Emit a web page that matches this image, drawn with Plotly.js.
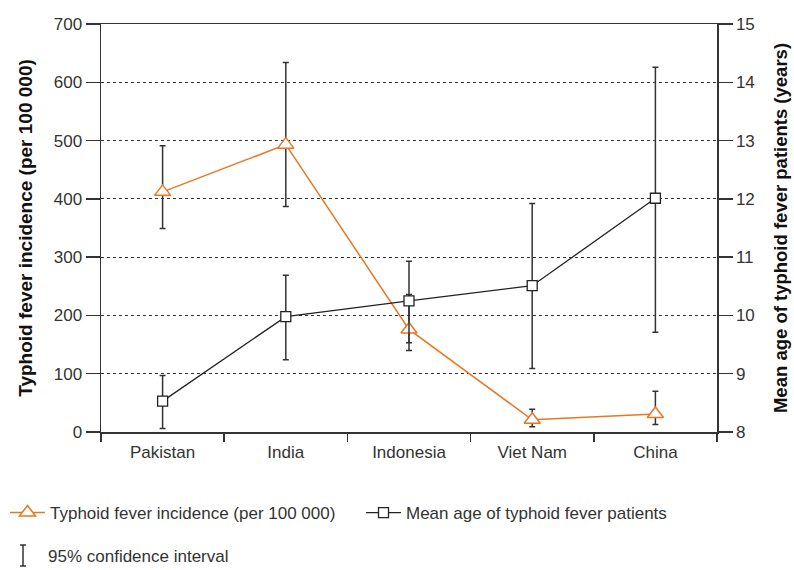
<!DOCTYPE html>
<html><head><meta charset="utf-8">
<script src="https://cdn.plot.ly/plotly-3.0.1.min.js"></script>
<style>html,body{margin:0;padding:0;background:#fff}</style>
</head><body><div id="chart" style="width:794px;height:570px"></div>
<script>
const countries = ['Pakistan', 'India', 'Indonesia', 'Viet Nam', 'China'];
const incidence = [412, 493, 176, 21, 31];
const incidenceLow = [349, 387, 140, 9, 13];
const incidenceHigh = [491, 634, 236, 39, 70];
const meanAge = [8.53, 9.98, 10.25, 10.51, 12.01];
const ageLow = [8.06, 9.24, 9.53, 9.09, 9.71];
const ageHigh = [8.97, 10.69, 10.93, 11.92, 14.26];
const incidenceName = 'Typhoid fever incidence (per 100 000)';
const ageName = 'Mean age of typhoid fever patients';
const ciLabel = '95% confidence interval';
const leftTitle = 'Typhoid fever incidence (per 100 000)';
const rightTitle = 'Mean age of typhoid fever patients (years)';

const ORANGE = '#E87722';
const DARK = '#222';
const GREY = '#333';
const FONT = 'Liberation Sans, Arial, sans-serif';
const FS = 17;

const errStyle = {type: 'data', symmetric: false, color: GREY, thickness: 1.5, width: 3};

const traces = [
  {
    x: countries, y: incidence, yaxis: 'y', name: incidenceName, legend: 'legend',
    type: 'scatter', mode: 'lines+markers', cliponaxis: false,
    line: {color: ORANGE, width: 1.5},
    marker: {symbol: 'triangle-up', size: 14, color: '#fff', line: {color: ORANGE, width: 1.5}},
    error_y: Object.assign({}, errStyle, {
      array: incidenceHigh.map((h, i) => h - incidence[i]),
      arrayminus: incidence.map((v, i) => v - incidenceLow[i])
    })
  },
  {
    x: countries, y: meanAge, yaxis: 'y2', name: ageName, legend: 'legend2',
    type: 'scatter', mode: 'lines+markers', cliponaxis: false,
    line: {color: DARK, width: 1.3},
    marker: {symbol: 'square', size: 10, color: '#fff', line: {color: DARK, width: 1.3}},
    error_y: Object.assign({}, errStyle, {
      array: ageHigh.map((h, i) => h - meanAge[i]),
      arrayminus: meanAge.map((v, i) => v - ageLow[i])
    })
  }
];

// paper coords for legend row 2 (plot area: x 101..717, y 24..432)
const px = v => (v - 101) / 616;
const py = v => (432 - v) / 408;

const legendBase = {
  orientation: 'h', xref: 'container', yref: 'container',
  y: 1 - 513 / 570, xanchor: 'left', yanchor: 'middle',
  font: {family: FONT, size: FS, color: GREY},
  itemwidth: 35, bgcolor: 'rgba(0,0,0,0)'
};

const layout = {
  width: 794, height: 570,
  margin: {l: 101, r: 77, t: 24, b: 138},
  paper_bgcolor: '#fff', plot_bgcolor: '#fff',
  font: {family: FONT, size: FS, color: GREY},
  showlegend: true,
  legend: Object.assign({}, legendBase, {x: 5 / 794}),
  legend2: Object.assign({}, legendBase, {x: 361 / 794}),
  xaxis: {
    type: 'category', range: [-0.5, 4.5],
    showline: true, mirror: true, linecolor: GREY, linewidth: 1.5,
    ticks: 'outside', tickson: 'boundaries', ticklen: 8, tickwidth: 1.5, tickcolor: GREY,
    ticklabelstandoff: 4,
    showgrid: false, zeroline: false,
    tickfont: {family: FONT, size: FS, color: GREY}
  },
  yaxis: {
    range: [0, 700], dtick: 100, tick0: 0,
    showline: true, linecolor: GREY, linewidth: 1.5,
    ticks: 'outside', ticklen: 14, tickwidth: 1.5, tickcolor: GREY,
    showgrid: true, gridcolor: GREY, gridwidth: 1.2, griddash: 'dot',
    zeroline: false,
    tickfont: {family: FONT, size: FS, color: GREY},
    title: {text: leftTitle, standoff: 16,
      font: {family: FONT, size: 19, color: '#111', weight: 'bold'}}
  },
  yaxis2: {
    range: [8, 15], dtick: 1, tick0: 8, overlaying: 'y', side: 'right',
    showline: true, linecolor: GREY, linewidth: 1.5,
    ticks: 'outside', ticklen: 14, tickwidth: 1.5, tickcolor: GREY,
    showgrid: false, zeroline: false,
    tickfont: {family: FONT, size: FS, color: GREY},
    title: {text: rightTitle, standoff: 20,
      font: {family: FONT, size: 18.5, color: '#111', weight: 'bold'}}
  },
  shapes: [
    {type: 'line', xref: 'paper', yref: 'paper', x0: px(23), x1: px(23), y0: py(545), y1: py(566), line: {color: GREY, width: 1.5}},
    {type: 'line', xref: 'paper', yref: 'paper', x0: px(20), x1: px(26), y0: py(545), y1: py(545), line: {color: GREY, width: 1.5}},
    {type: 'line', xref: 'paper', yref: 'paper', x0: px(20), x1: px(26), y0: py(566), y1: py(566), line: {color: GREY, width: 1.5}}
  ],
  annotations: [
    {text: ciLabel, xref: 'paper', yref: 'paper', x: px(46), y: py(556), xanchor: 'left', yanchor: 'middle',
      showarrow: false, font: {family: FONT, size: FS, color: GREY}}
  ]
};

Plotly.newPlot('chart', traces, layout, {displayModeBar: false, staticPlot: true});
</script>
</body></html>
